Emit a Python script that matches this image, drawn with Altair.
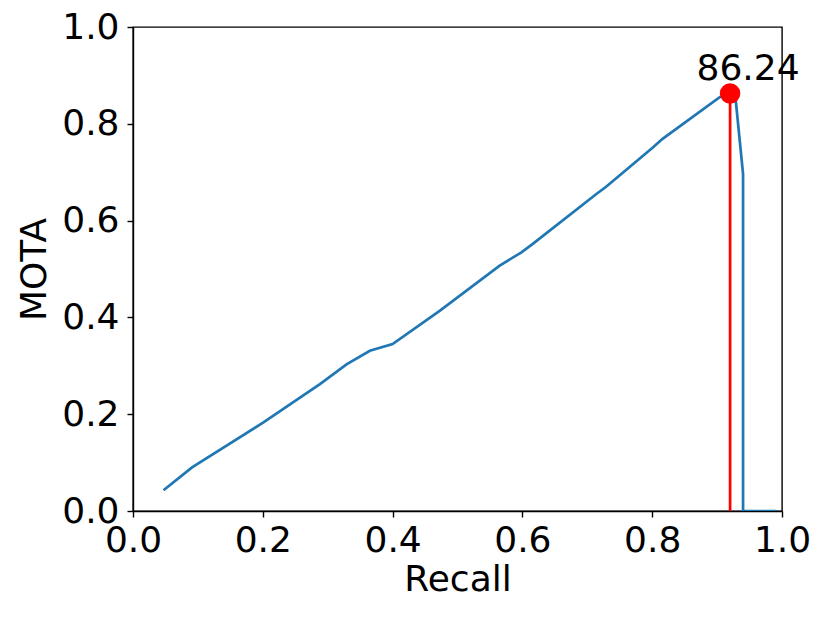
import altair as alt
import pandas as pd

recall = [0.047, 0.091, 0.201, 0.288, 0.329, 0.365, 0.400, 0.473, 0.565, 0.598,
          0.616, 0.714, 0.729, 0.801, 0.816, 0.904, 0.920, 0.929, 0.940, 0.940, 0.990]
mota = [0.043, 0.090, 0.183, 0.262, 0.303, 0.331, 0.345, 0.414, 0.507, 0.534,
        0.552, 0.655, 0.670, 0.751, 0.769, 0.855, 0.8624, 0.845, 0.696, 0.000, 0.000]

best_recall = [0.920]
best_mota = [0.8624]
best_label = ["86.24"]

FONT = "DejaVu Sans"

curve = pd.DataFrame({"Recall": recall, "MOTA": mota, "idx": list(range(len(recall)))})
best = pd.DataFrame({"Recall": best_recall, "MOTA": best_mota, "label": best_label,
                     "zero": [0.0]})

xs = alt.Scale(domain=[0, 1], nice=False, zero=False)
ys = alt.Scale(domain=[0, 1], nice=False, zero=False)
ticks = [0.0, 0.2, 0.4, 0.6, 0.8, 1.0]

xaxis = alt.Axis(values=ticks, format=".1f", grid=False, title="Recall",
                 labelFontSize=36, titleFontSize=36, labelFont=FONT, titleFont=FONT,
                 titleFontWeight="normal", labelColor="black", titleColor="black",
                 tickColor="black", domainColor="black", tickSize=6, tickWidth=1.4,
                 domainWidth=1.4, labelPadding=6, titlePadding=4, labelFlush=False)
yaxis = alt.Axis(values=ticks, format=".1f", grid=False, title="MOTA",
                 labelFontSize=36, titleFontSize=36, labelFont=FONT, titleFont=FONT,
                 titleFontWeight="normal", labelColor="black", titleColor="black",
                 tickColor="black", domainColor="black", tickSize=6, tickWidth=1.4,
                 domainWidth=1.4, labelPadding=8, titlePadding=8, labelFlush=False)

line = alt.Chart(curve).mark_line(color="#1f77b4", strokeWidth=2.7, clip=True).encode(
    x=alt.X("Recall:Q", scale=xs, axis=xaxis),
    y=alt.Y("MOTA:Q", scale=ys, axis=yaxis),
    order="idx:Q",
)

vline = alt.Chart(best).mark_rule(color="#ff0000", strokeWidth=2.7).encode(
    x="Recall:Q", y="zero:Q", y2="MOTA:Q"
)

dot = alt.Chart(best).mark_circle(color="#ff0000", opacity=1, size=420).encode(
    x="Recall:Q", y="MOTA:Q"
)

label = alt.Chart(best).mark_text(font=FONT, fontSize=36, color="black", align="center",
                                  baseline="alphabetic", dx=18, dy=-14).encode(
    x="Recall:Q", y="MOTA:Q", text="label:N"
)

chart = alt.layer(line, vline, dot, label).properties(
    width=649, height=484,
    autosize=alt.AutoSizeParams(type="none"),
    padding={"left": 125, "top": 19, "right": 40, "bottom": 100},
).configure(background="white").configure_view(stroke="black", strokeWidth=1.4)

chart.save("out.html", embed_options={"renderer": "svg", "actions": False})
